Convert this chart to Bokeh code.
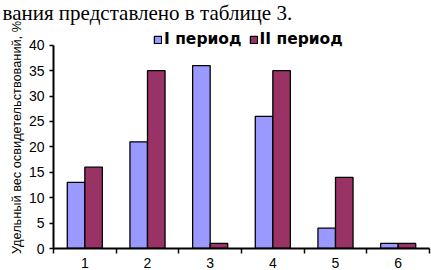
from bokeh.plotting import figure
from bokeh.models import (ColumnDataSource, FixedTicker, Legend, LegendItem, Range1d, Title)
from bokeh.transform import dodge
from bokeh.embed import file_html
from bokeh.resources import INLINE

# ---- data ----
header_text = "вания представлено в таблице 3."
y_axis_title = "Удельный вес освидетельствований, %"
series_names = ["I период", "II период"]
categories = ["1", "2", "3", "4", "5", "6"]
cat_pos = [1, 2, 3, 4, 5, 6]
period1 = [13, 21, 36, 26, 4, 1]
period2 = [16, 35, 1, 35, 14, 1]
y_ticks = [0, 5, 10, 15, 20, 25, 30, 35, 40]

src = ColumnDataSource(dict(x=cat_pos, p1=period1, p2=period2))

p = figure(width=431, height=270, output_backend="svg", toolbar_location=None,
           x_range=Range1d(0.5, 6.5), y_range=Range1d(0, 43.7),
           min_border_left=53, min_border_right=2, min_border_top=25, min_border_bottom=20)
p.background_fill_color = "white"
p.border_fill_color = "white"
p.outline_line_color = None
p.xgrid.visible = False
p.ygrid.visible = False

p.title = Title(text=header_text, align="left", offset=-51, standoff=0,
                vertical_align="top",
                text_font="Liberation Serif", text_font_size="21px",
                text_font_style="normal", text_color="black")

bw = 0.28
r1 = p.vbar(x=dodge('x', -bw / 2, range=p.x_range), top='p1', width=bw, source=src,
            fill_color="#9999FF", line_color="black", line_width=1.3)
r2 = p.vbar(x=dodge('x', bw / 2, range=p.x_range), top='p2', width=bw, source=src,
            fill_color="#993366", line_color="black", line_width=1.3)

# axes
xa = p.xaxis[0]
xa.ticker = FixedTicker(ticks=cat_pos, minor_ticks=[c + 0.5 for c in [0] + cat_pos])
xa.major_label_overrides = {c: l for c, l in zip(cat_pos, categories)}
xa.major_tick_out = 0
xa.major_tick_in = 0
xa.minor_tick_out = 5
xa.minor_tick_in = 0
xa.minor_tick_line_color = "black"
xa.minor_tick_line_width = 1.5
xa.axis_line_color = "black"
xa.axis_line_width = 2
xa.major_label_standoff = 4
xa.major_label_text_font = "Liberation Sans"
xa.major_label_text_font_size = "14px"
xa.major_label_text_color = "black"

ya = p.yaxis[0]
ya.ticker = FixedTicker(ticks=y_ticks)
ya.bounds = (y_ticks[0], y_ticks[-1])
ya.major_tick_out = 4
ya.major_tick_in = 0
ya.minor_tick_line_color = None
ya.major_tick_line_color = "black"
ya.major_tick_line_width = 1.5
ya.axis_line_color = "black"
ya.axis_line_width = 2
ya.major_label_standoff = 5
ya.major_label_text_font = "Liberation Sans"
ya.major_label_text_font_size = "14px"
ya.major_label_text_color = "black"
ya.axis_label = y_axis_title
ya.axis_label_text_font = "Liberation Sans"
ya.axis_label_text_font_size = "12.75px"
ya.axis_label_text_font_style = "normal"
ya.axis_label_text_color = "black"
ya.axis_label_standoff = 2

legend = Legend(items=[LegendItem(label=series_names[0], renderers=[r1]),
                       LegendItem(label=series_names[1], renderers=[r2])],
                orientation="horizontal", location=(100, 200),
                glyph_width=9, glyph_height=9, label_standoff=2, spacing=7,
                padding=0, margin=0, label_height=12,
                border_line_color=None, background_fill_alpha=0,
                label_text_font="DejaVu Sans", label_text_font_style="bold",
                label_text_font_size="15.5px", label_text_color="black")
p.add_layout(legend, "center")

open("out.html", "w").write(file_html(p, INLINE))
